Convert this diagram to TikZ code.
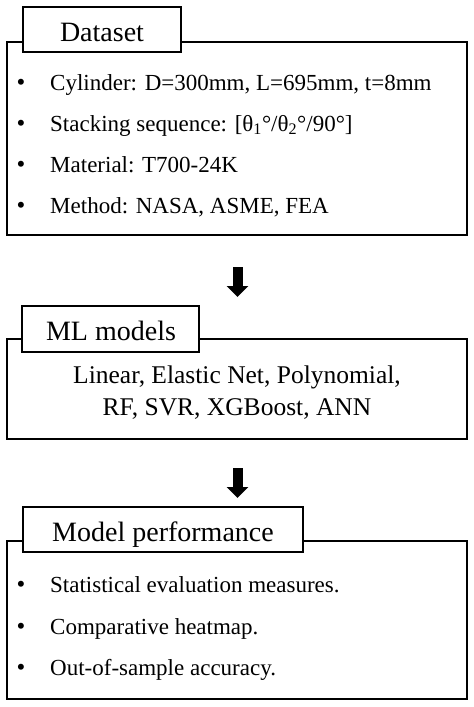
\documentclass[tikz,border=0pt]{standalone}
\usepackage{fontspec}
\setmainfont{Liberation Serif}
\usetikzlibrary{arrows.meta}
\begin{document}
\begin{tikzpicture}[x=1pt,y=-1pt,
  panel/.style={draw=black, line width=2.3pt, fill=white, inner sep=0pt},
  tabbox/.style={draw=black, line width=2.3pt, fill=white, inner sep=0pt, font=\fontsize{28}{32}\selectfont},
  bodytext/.style={anchor=base west, inner sep=0pt, font=\fontsize{23}{27}\selectfont},
  bul/.style={anchor=base, inner sep=0pt, font=\fontsize{25}{28}\selectfont},
  bigarrow/.style={line width=10pt, -{Triangle[width=21pt,length=11pt]}}
]
\useasboundingbox (0,0) rectangle (474,707);
\fill[white] (0,0) rectangle (474,707);

% Box 1
\node[panel, minimum width=460pt, minimum height=193pt] (box1) at (237,138.5) {};
\node[tabbox, minimum width=158pt, minimum height=45pt] (tab1) at (102,29.5) {};
\node[anchor=base, inner sep=0pt, font=\fontsize{28}{32}\selectfont] (t1) at (102,41) {Dataset};
\node[bul] (b11) at (21,90) {•};
\node[bodytext] (l11) at (50,90) {Cylinder: D=300mm, L=695mm, t=8mm};
\node[bul] (b12) at (21,131) {•};
\node[bodytext] (l12) at (50,131) {Stacking sequence: [θ\textsubscript{1}°/θ\textsubscript{2}°/90°]};
\node[bul] (b13) at (21,172) {•};
\node[bodytext] (l13) at (50,172) {Material: T700-24K};
\node[bul] (b14) at (21,213) {•};
\node[bodytext] (l14) at (50,213) {Method: NASA, ASME, FEA};

% Arrow 1
\coordinate (a1s) at (237.5,267);
\coordinate (a1e) at (237.5,297);
\draw[bigarrow] (a1s) -- (a1e);

% Box 2
\node[panel, minimum width=460pt, minimum height=100pt] (box2) at (237,389) {};
\node[tabbox, minimum width=177pt, minimum height=46pt] (tab2) at (110.5,329) {};
\node[anchor=base, inner sep=0pt, font=\fontsize{28}{32}\selectfont] (t2) at (111,340) {ML models};
\node[anchor=base, inner sep=0pt, font=\fontsize{25.5}{30}\selectfont] (m1) at (237,383) {Linear, Elastic Net, Polynomial,};
\node[anchor=base, inner sep=0pt, font=\fontsize{25.5}{30}\selectfont] (m2) at (237,415) {RF, SVR, XGBoost, ANN};

% Arrow 2
\coordinate (a2s) at (237.5,468);
\coordinate (a2e) at (237.5,498);
\draw[bigarrow] (a2s) -- (a2e);

% Box 3
\node[panel, minimum width=460pt, minimum height=158pt] (box3) at (237,620) {};
\node[tabbox, minimum width=280pt, minimum height=45pt] (tab3) at (163,529.5) {};
\node[anchor=base, inner sep=0pt, font=\fontsize{28}{32}\selectfont] (t3) at (163,541) {Model performance};
\node[bul] (b31) at (21,592) {•};
\node[bodytext] (l31) at (50,592) {Statistical evaluation measures.};
\node[bul] (b32) at (21,634) {•};
\node[bodytext] (l32) at (50,634) {Comparative heatmap.};
\node[bul] (b33) at (21,675) {•};
\node[bodytext] (l33) at (50,675) {Out-of-sample accuracy.};
\end{tikzpicture}
\end{document}
